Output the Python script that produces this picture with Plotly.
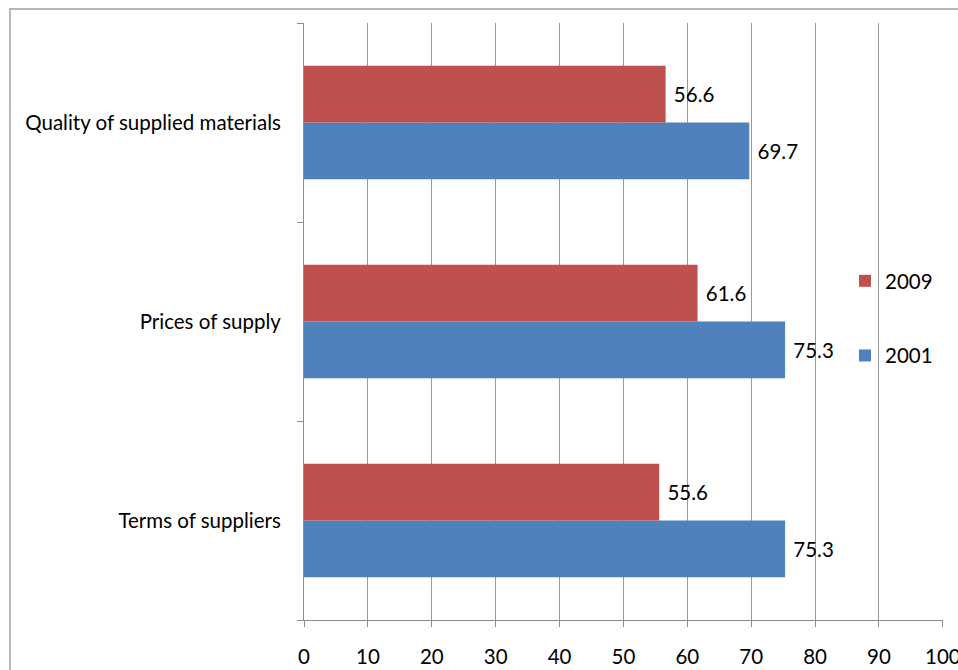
import plotly.graph_objects as go

categories = ["Terms of suppliers", "Prices of supply", "Quality of supplied materials"]
values_2001 = [75.3, 75.3, 69.7]
values_2009 = [55.6, 61.6, 56.6]
x_ticks = [0, 10, 20, 30, 40, 50, 60, 70, 80, 90, 100]

FONT = "Lato"
FS = 20.5
W, H = 958, 670
ML, MR, MT, MB = 304, 15, 23, 50
pw = W - ML - MR
ph = H - MT - MB

fig = go.Figure()
fig.add_trace(go.Bar(
    name="2001", y=categories, x=values_2001, orientation="h",
    marker=dict(color="#4F81BD", line=dict(width=0)),
    text=values_2001, texttemplate="\u00a0%{x:.1f}", textposition="outside",
    textfont=dict(family=FONT, size=FS, color="#000000"),
    cliponaxis=False, legendgroup="a", legendrank=2,
))
fig.add_trace(go.Bar(
    name="2009", y=categories, x=values_2009, orientation="h",
    marker=dict(color="#C0504D", line=dict(width=0)),
    text=values_2009, texttemplate="\u00a0%{x:.1f}", textposition="outside",
    textfont=dict(family=FONT, size=FS, color="#000000"),
    cliponaxis=False, legendgroup="b", legendrank=1,
))

# outer chart border
fig.add_shape(type="rect", xref="paper", yref="paper",
              x0=(10 - ML) / pw, x1=(W + 20 - ML) / pw,
              y0=(H - MB - (H + 20)) / ph, y1=(H - MB - 9) / ph,
              line=dict(color="#A0A0A0", width=1.5), fillcolor="rgba(0,0,0,0)", layer="below")

fig.update_layout(
    width=W, height=H,
    margin=dict(l=ML, r=MR, t=MT, b=MB, pad=0, autoexpand=False),
    paper_bgcolor="white", plot_bgcolor="white",
    barmode="group", bargap=0.43, bargroupgap=0,
    font=dict(family=FONT, size=FS, color="#000000"),
    uniformtext=dict(minsize=FS, mode="show"),
    xaxis=dict(range=[0, 100.02], tickvals=x_ticks, ticktext=[str(t) for t in x_ticks],
               showgrid=True, gridcolor="#9A9A9A", gridwidth=1,
               showline=True, linecolor="#8C8C8C", linewidth=1,
               ticks="outside", ticklen=6, tickcolor="#8C8C8C", ticklabelstandoff=12,
               ticklabeloverflow="allow", automargin=False,
               zeroline=False, tickfont=dict(family=FONT, size=FS), fixedrange=True),
    yaxis=dict(categoryorder="array", categoryarray=categories,
               showline=True, linecolor="#8C8C8C", linewidth=1,
               ticks="outside", ticklen=6, tickcolor="#8C8C8C", tickson="boundaries",
               showgrid=False, zeroline=False, ticklabelstandoff=18, automargin=False,
               tickfont=dict(family=FONT, size=FS), fixedrange=True),
    legend=dict(x=(845 - ML) / pw, xanchor="left", y=(H - MB - 261) / ph, yanchor="top",
                traceorder="grouped", tracegroupgap=45,
                bgcolor="rgba(0,0,0,0)", font=dict(family=FONT, size=FS)),
    showlegend=True,
)

fig.write_html("out.html")
